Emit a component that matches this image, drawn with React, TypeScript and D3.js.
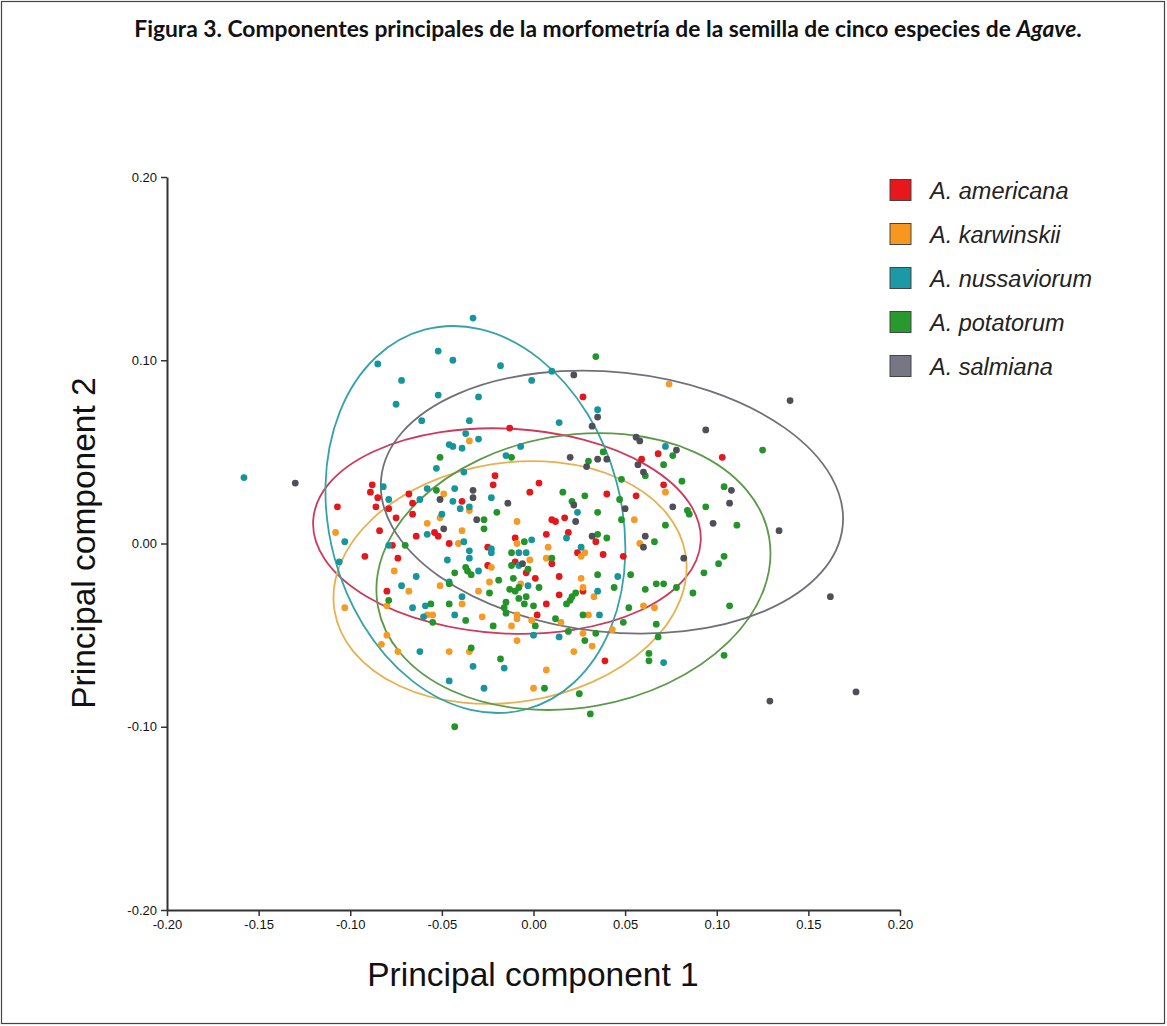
import React, { useEffect, useRef } from "react";
import * as d3 from "d3";

type Pt = [number, number];

// PC1, PC2 scores
const americana: Pt[] = [
  [-0.088, 0.032], [-0.089, 0.028], [-0.085, 0.025], [-0.068, 0.027], [-0.066, 0.022],
  [-0.086, 0.02], [-0.079, 0.019], [-0.107, 0.02], [-0.066, 0.016], [-0.075, 0.014],
  [0.027, 0.08], [-0.013, 0.063], [0.068, 0.049], [0.059, 0.046], [-0.021, 0.037],
  [-0.022, 0.032], [0.003, 0.033], [-0.002, 0.028], [0.04, 0.027], [0.056, 0.026],
  [-0.039, 0.023], [0.01, 0.013], [0.012, 0.012], [0.017, 0.014], [0.103, 0.047],
  [0.071, 0.032], [-0.084, 0.007], [-0.092, -0.007], [-0.077, -0.001], [-0.074, -0.008],
  [-0.064, 0.004], [-0.054, 0.006], [-0.052, 0.004], [-0.08, -0.026], [-0.046, 0.0],
  [-0.025, -0.002], [-0.01, 0.003], [0.007, 0.005], [0.019, 0.006], [0.034, 0.001],
  [0.024, -0.005], [0.038, -0.006], [0.049, -0.007], [-0.01, -0.01], [0.01, -0.011],
  [-0.025, -0.012], [-0.004, -0.016], [0.001, -0.019], [0.014, -0.018], [0.027, -0.026],
  [0.014, -0.028], [0.007, -0.033], [0.002, -0.039], [0.039, -0.064],
];

const karwinskii: Pt[] = [
  [-0.049, 0.027], [-0.058, 0.011], [-0.051, 0.014], [-0.035, 0.056], [-0.035, 0.018],
  [-0.009, 0.012], [0.055, 0.013], [0.074, 0.087], [0.072, 0.028], [-0.108, 0.006],
  [-0.076, -0.015], [-0.068, -0.026], [-0.051, -0.023], [-0.08, -0.034], [-0.103, -0.035],
  [-0.058, -0.039], [-0.055, -0.039], [-0.08, -0.05], [-0.083, -0.055], [-0.074, -0.059],
  [-0.039, 0.007], [-0.041, 0.0], [-0.009, 0.0], [0.008, -0.002], [0.058, 0.0],
  [0.026, -0.007], [0.028, -0.005], [0.007, -0.008], [-0.002, -0.009], [-0.023, -0.013],
  [-0.024, -0.021], [0.026, -0.019], [-0.007, -0.022], [0.027, -0.024], [-0.03, -0.026],
  [0.033, -0.029], [-0.039, -0.033], [-0.028, -0.04], [-0.009, -0.039], [-0.009, -0.041],
  [0.03, -0.039], [0.06, -0.034], [0.066, -0.035], [0.015, -0.043], [-0.001, -0.042],
  [-0.012, -0.045], [0.027, -0.049], [0.043, -0.047], [0.032, -0.056], [-0.009, -0.053],
  [-0.046, -0.059], [-0.035, -0.059], [0.022, -0.059], [0.007, -0.069], [0.0, -0.079],
];

const nussaviorum: Pt[] = [
  [-0.085, 0.098], [-0.072, 0.089], [-0.052, 0.105], [-0.052, 0.081], [-0.075, 0.076],
  [-0.061, 0.067], [-0.053, 0.041], [-0.158, 0.036], [-0.082, 0.031], [-0.079, 0.024],
  [-0.058, 0.03], [-0.062, 0.024], [-0.05, 0.016], [-0.033, 0.123], [-0.044, 0.1],
  [-0.018, 0.097], [0.01, 0.094], [-0.001, 0.089], [-0.03, 0.08], [0.035, 0.073],
  [-0.035, 0.067], [0.014, 0.066], [-0.037, 0.06], [-0.03, 0.057], [-0.046, 0.054],
  [-0.044, 0.053], [-0.039, 0.052], [-0.007, 0.053], [-0.015, 0.048], [-0.038, 0.039],
  [-0.043, 0.03], [-0.044, 0.023], [-0.023, 0.025], [-0.035, 0.02], [-0.04, 0.019],
  [0.024, 0.017], [0.072, 0.053], [-0.103, 0.001], [-0.079, -0.001], [-0.058, 0.005],
  [-0.106, -0.01], [-0.064, -0.018], [-0.072, -0.023], [-0.066, -0.035], [-0.059, -0.034],
  [-0.06, -0.04], [-0.062, -0.059], [-0.038, 0.001], [-0.035, -0.004], [-0.035, -0.008],
  [-0.047, -0.009], [-0.023, -0.003], [-0.023, -0.005], [-0.001, 0.002], [0.018, 0.003],
  [0.026, -0.002], [-0.008, -0.005], [-0.004, -0.005], [-0.008, -0.012], [-0.03, -0.015],
  [-0.046, -0.021], [0.046, -0.018], [-0.003, -0.023], [0.035, -0.026], [-0.039, -0.029],
  [-0.043, -0.039], [0.036, -0.039], [0.0, -0.05], [0.014, -0.051], [-0.016, -0.068],
  [-0.033, -0.067], [-0.046, -0.075], [-0.027, -0.079], [0.071, -0.065],
];

const potatorum: Pt[] = [
  [-0.051, 0.047], [-0.053, 0.029], [0.034, 0.102], [0.038, 0.05], [0.03, 0.045],
  [-0.012, 0.047], [0.061, 0.037], [0.016, 0.028], [0.028, 0.026], [0.048, 0.035],
  [0.047, 0.024], [-0.02, 0.017], [-0.027, 0.013], [0.021, 0.023], [0.035, 0.017],
  [0.048, 0.013], [0.076, 0.048], [0.125, 0.051], [0.071, 0.043], [0.081, 0.034],
  [0.104, 0.031], [0.084, 0.018], [0.085, 0.016], [0.094, 0.02], [0.111, 0.01],
  [0.072, 0.01], [0.104, -0.007], [0.101, -0.011], [0.093, -0.016], [0.071, -0.022],
  [0.078, -0.024], [0.087, -0.027], [0.107, -0.034], [0.104, -0.061], [-0.07, -0.001],
  [-0.079, -0.031], [-0.056, -0.033], [-0.055, -0.043], [-0.027, 0.008], [-0.005, 0.001],
  [0.035, 0.005], [0.04, 0.003], [0.066, 0.001], [-0.012, -0.005], [0.01, -0.008],
  [-0.037, -0.013], [-0.034, -0.017], [-0.036, -0.015], [-0.012, -0.012], [-0.003, -0.014],
  [-0.043, -0.016], [-0.046, -0.022], [-0.019, -0.02], [-0.011, -0.019], [0.035, -0.017],
  [0.053, -0.017], [-0.008, -0.024], [0.003, -0.024], [-0.024, -0.027], [-0.013, -0.025],
  [-0.01, -0.026], [0.023, -0.027], [0.044, -0.024], [0.061, -0.025], [0.067, -0.022],
  [-0.046, -0.033], [-0.015, -0.032], [-0.008, -0.03], [-0.005, -0.033], [-0.004, -0.029],
  [0.0, -0.034], [0.018, -0.033], [0.02, -0.031], [0.021, -0.029], [-0.016, -0.035],
  [-0.015, -0.038], [-0.037, -0.042], [0.012, -0.041], [0.027, -0.039], [0.052, -0.035],
  [0.049, -0.043], [0.001, -0.045], [-0.022, -0.045], [0.019, -0.048], [0.034, -0.049],
  [0.028, -0.053], [0.067, -0.044], [0.068, -0.051], [-0.034, -0.057], [-0.018, -0.063],
  [0.063, -0.06], [0.063, -0.064], [0.006, -0.079], [0.025, -0.082], [0.031, -0.093],
  [-0.043, -0.1],
];

const salmiana: Pt[] = [
  [-0.13, 0.033], [-0.051, 0.024], [0.022, 0.092], [0.035, 0.069], [0.032, 0.064],
  [0.056, 0.058], [0.058, 0.056], [0.02, 0.047], [0.035, 0.046], [0.04, 0.046],
  [0.029, 0.042], [0.057, 0.043], [0.06, 0.039], [-0.033, 0.029], [-0.033, 0.025],
  [-0.014, 0.022], [-0.031, 0.013], [0.022, 0.021], [0.023, 0.012], [0.05, 0.019],
  [0.14, 0.078], [0.094, 0.062], [0.078, 0.051], [0.108, 0.029], [0.107, 0.022],
  [0.076, 0.02], [0.098, 0.011], [0.134, 0.007], [0.082, -0.008], [0.162, -0.029],
  [0.129, -0.086], [0.176, -0.081], [-0.049, 0.008], [0.032, 0.004], [0.061, 0.004],
  [0.06, -0.002], [-0.006, -0.011],
];

const species = ["A. americana", "A. karwinskii", "A. nussaviorum", "A. potatorum", "A. salmiana"];
const seriesData = [americana, karwinskii, nussaviorum, potatorum, salmiana];
const pointColors = ["#e3171c", "#f59b25", "#16969c", "#23942a", "#4e4f57"];
const legendColors = ["#e8171c", "#f7971f", "#1b9aa6", "#28992d", "#767785"];
const ellipseColors = ["#cc3a5c", "#e6b14f", "#35a2a8", "#5c9948", "#707077"];

// confidence ellipses: centre, semi-axes (data units), rotation in degrees (counter-clockwise)
const ellipseCx = [-0.0145, -0.0128, -0.0317, 0.0218, 0.0428];
const ellipseCy = [0.0068, -0.0213, 0.0131, -0.0153, 0.0226];
const ellipseRx = [0.1059, 0.097, 0.0797, 0.1084, 0.1266];
const ellipseRy = [0.0559, 0.0653, 0.1072, 0.0743, 0.0709];
const ellipseAngle = [-3, 9, 15, 10, -6];

const xTicks = [-0.2, -0.15, -0.1, -0.05, 0, 0.05, 0.1, 0.15, 0.2];
const yTicks = [-0.2, -0.1, 0, 0.1, 0.2];

const App = () => {
  const svgRef = useRef<SVGSVGElement>(null);

  useEffect(() => {
    const width = 1167;
    const height = 1026;
    const left = 167;
    const right = 900;
    const top = 177;
    const bottom = 910;

    const svg = d3.select(svgRef.current);
    svg.attr("width", width).attr("height", height);

    const x = d3.scaleLinear().domain([-0.2, 0.2]).range([left, right]);
    const y = d3.scaleLinear().domain([-0.2, 0.2]).range([bottom, top]);
    const fmt = (d: d3.NumberValue) => (+d).toFixed(2);

    //ellipses
    const ell = svg.select(".ellipses");
    ell
      .selectAll("ellipse")
      .data(species.map((_, i) => i))
      .join("ellipse")
      .attr("cx", (i) => x(ellipseCx[i]))
      .attr("cy", (i) => y(ellipseCy[i]))
      .attr("rx", (i) => x(ellipseCx[i] + ellipseRx[i]) - x(ellipseCx[i]))
      .attr("ry", (i) => y(ellipseCy[i]) - y(ellipseCy[i] + ellipseRy[i]))
      .attr(
        "transform",
        (i) => `rotate(${-ellipseAngle[i]}, ${x(ellipseCx[i])}, ${y(ellipseCy[i])})`,
      )
      .attr("fill", "none")
      .attr("stroke", (i) => ellipseColors[i])
      .attr("stroke-width", 1.8);

    //points
    const pts = svg.select(".points");
    pts
      .selectAll("g")
      .data(seriesData)
      .join("g")
      .attr("fill", (_, i) => pointColors[i])
      .selectAll("circle")
      .data((d) => d)
      .join("circle")
      .attr("cx", (d) => x(d[0]))
      .attr("cy", (d) => y(d[1]))
      .attr("r", 3.4);

    //x axis
    svg
      .select<SVGGElement>(".x-axis")
      .attr("transform", `translate(0, ${bottom})`)
      .call(d3.axisBottom(x).tickValues(xTicks).tickFormat(fmt).tickSize(6).tickSizeOuter(0).tickPadding(4))
      .call((g) => g.select(".domain").attr("stroke", "#333").attr("stroke-width", 2))
      .call((g) => g.selectAll(".tick line").attr("stroke", "#333").attr("stroke-width", 1.5))
      .call((g) =>
        g
          .selectAll(".tick text")
          .attr("fill", "#111")
          .style("font-family", "'Liberation Sans', Arial, sans-serif")
          .style("font-size", "13px"),
      );

    //y axis
    svg
      .select<SVGGElement>(".y-axis")
      .attr("transform", `translate(${left}, 0)`)
      .call(d3.axisLeft(y).tickValues(yTicks).tickFormat(fmt).tickSize(6).tickSizeOuter(0).tickPadding(4))
      .call((g) => g.select(".domain").attr("stroke", "#333").attr("stroke-width", 2))
      .call((g) => g.selectAll(".tick line").attr("stroke", "#333").attr("stroke-width", 1.5))
      .call((g) =>
        g
          .selectAll(".tick text")
          .attr("fill", "#111")
          .style("font-family", "'Liberation Sans', Arial, sans-serif")
          .style("font-size", "13px"),
      );

    //legend
    const lg = svg
      .select(".legend")
      .selectAll("g")
      .data(species)
      .join("g")
      .attr("transform", (_, i) => `translate(890, ${190 + i * 44})`);
    lg.selectAll("rect")
      .data((d, i) => [i])
      .join("rect")
      .attr("x", 0)
      .attr("y", -10.5)
      .attr("width", 21)
      .attr("height", 21)
      .attr("fill", (i) => legendColors[i])
      .attr("stroke", "#444")
      .attr("stroke-width", 1);
    lg.selectAll("text")
      .data((d) => [d])
      .join("text")
      .attr("x", 40)
      .attr("y", 8.5)
      .attr("fill", "#222")
      .style("font-family", "'Liberation Sans', Arial, sans-serif")
      .style("font-style", "italic")
      .style("font-size", "23.5px")
      .text((d) => d);
  }, []);

  return (
    <svg
      ref={svgRef}
      style={{ position: "absolute", left: 0, top: 0, background: "#fff" }}
      width={1167}
      height={1026}
    >
      <rect x={1.5} y={1.5} width={1163} height={1022} fill="#fff" stroke="#444" strokeWidth={1.2} />
      <text
        x={608}
        y={37}
        textAnchor="middle"
        fontFamily="Lato, 'Open Sans', sans-serif"
        fontWeight="bold"
        fontSize={22.8}
        fill="#111"
      >
        Figura 3. Componentes principales de la morfometría de la semilla de cinco especies de{" "}
        <tspan fontStyle="italic">Agave</tspan>.
      </text>
      <g className="ellipses" />
      <g className="points" />
      <g className="x-axis" />
      <g className="y-axis" />
      <g className="legend" />
      <text
        x={533}
        y={986}
        textAnchor="middle"
        fontFamily="'Liberation Sans', Arial, sans-serif"
        fontSize={33.5}
        fill="#111"
      >
        Principal component 1
      </text>
      <text
        transform="translate(95, 543) rotate(-90)"
        textAnchor="middle"
        fontFamily="'Liberation Sans', Arial, sans-serif"
        fontSize={33.5}
        fill="#111"
      >
        Principal component 2
      </text>
    </svg>
  );
};

export default App;
